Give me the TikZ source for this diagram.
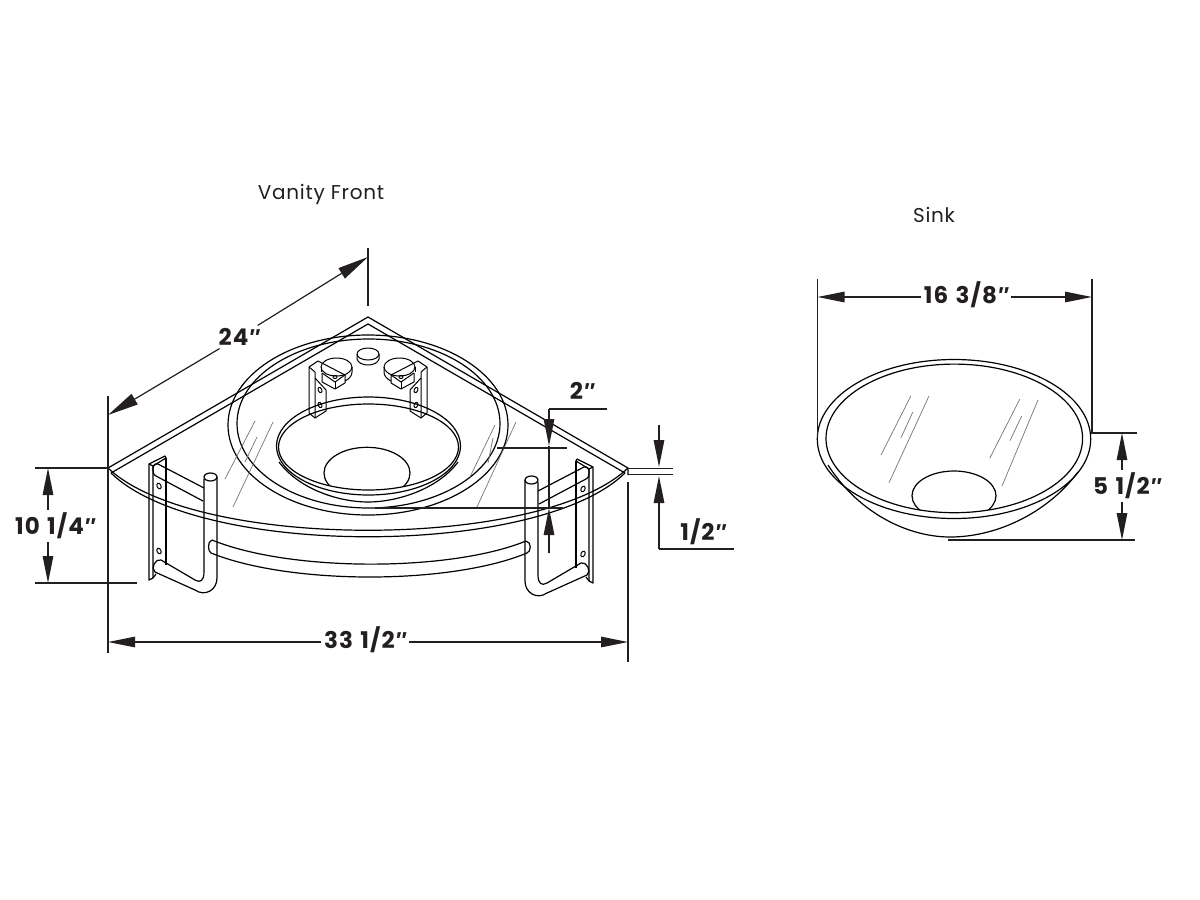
\documentclass[tikz,border=0pt]{standalone}
\usepackage{fontspec}
\setmainfont{Poppins}
\newfontfamily\dimfont[LetterSpace=4.5,WordSpace=1.25]{Poppins}
\newfontfamily\titlefont[LetterSpace=3.5]{Poppins}
\newfontfamily\primefont{Liberation Sans}
\newcommand{\inch}{{\primefont\itshape\bfseries ″}}
\usetikzlibrary{arrows.meta}
\definecolor{inkdark}{HTML}{231F20}
\tikzstyle{part} = [draw=black, line width=1.2pt, line join=round]
\tikzstyle{fine} = [draw=black, line width=1pt, line join=round]
\tikzstyle{glass} = [draw=black!55, line width=0.7pt]
\tikzstyle{dim} = [draw=inkdark, line width=1.2pt]
\tikzstyle{tip} = [dim, -{Triangle[length=27pt,width=10.5pt]}]
\tikzstyle{longtip} = [dim, -{Triangle[length=31pt,width=12pt]}]
\tikzstyle{size} = [font=\dimfont\bfseries\fontsize{23}{27}\selectfont, text=inkdark, inner sep=0pt, outer sep=3pt]
\tikzstyle{title} = [font=\titlefont\fontsize{20}{24}\selectfont, text=inkdark, inner sep=0pt]
\newcommand{\wallbracket}{%
  \path [part] (149,464) -- (165,456) -- (166,458) -- (153,466) -- cycle;
  \path [part] (149,464) -- (149,580) -- (153,578) -- (153,466);
  \path [part] (166,458) -- (166,565);
  \path [part] (153,578) -- (156,574);
  \path [fine] (159,486) ellipse [x radius=2, y radius=3, rotate=25];
  \path [fine] (159,551) ellipse [x radius=2, y radius=3, rotate=25];
  \path [part] (204,488) -- (158,464) .. controls (152,462) and (151,474) .. (156,476) -- (203,501);
  \path [part] (210.5,477) ellipse [x radius=6.5, y radius=4];
  \path [part] (204,479) -- (204,572) .. controls (204,581) and (200,583) .. (195,580)
    -- (161,560) .. controls (156,558) and (150,568) .. (155,572) -- (195,590)
    .. controls (205,597) and (217,590) .. (217,578) -- (217,477);
}
\newcommand{\tapblock}{%
  \path [fine] (309,367) -- (318,361) -- (345,375) -- (335,382) -- (322,373);
  \path [fine] (309,367) -- (309,413) -- (315,418) -- (326,411) -- (326,390) -- (315,378);
  \path [fine] (309,367) -- (315,372) -- (315,418);
  \path [fine] (322,373) -- (322,382) -- (335,389) -- (345,383) -- (345,375);
  \path [fine] (335,382) -- (335,389);
  \path [fine] (336.5,367) ellipse [x radius=15.5, y radius=9];
  \path [fine] (321,367) -- (321,372);
  \path [fine] (352,367) -- (352,372) .. controls (352,376) and (349,379) .. (345,381);
  \path [fine] (335,377) ellipse [x radius=2, y radius=1.5];
  \path [fine] (320,390) ellipse [x radius=1.8, y radius=2.8, rotate=25];
  \path [fine] (320,405) ellipse [x radius=1.8, y radius=2.8, rotate=25];
}
\begin{document}
\begin{tikzpicture}[x=1pt, y=-1pt]
  \useasboundingbox (0,0) rectangle (1200,900);

  \node [title] (front) at (321,194) {Vanity Front};
  \node [title] (sink) at (934,215) {Sink};

  % counter top
  \path [part] (108,468) -- (368,317) -- (628,468) -- (628,475);
  \path [part] (111,473) -- (368,324) -- (625,473);
  \path [part] (108,468) .. controls (195,551) and (541,551) .. (628,468);
  \path [part] (111,473) .. controls (198,558) and (538,558) .. (625,473);

  % basin
  \path [part] (368,425) ellipse [x radius=140, y radius=90];
  \path [part] (368.5,423.5) ellipse [x radius=131.5, y radius=84.5];
  \path [part] (368.5,446) ellipse [x radius=92, y radius=49];
  \path [part] (368.5,447) ellipse [x radius=90, y radius=43];
  \path [part] (279,462) .. controls (300,490) and (340,502) .. (368,502) .. controls (396,502) and (437,490) .. (458,462);
  \begin{scope}
    \clip (368.5,447) ellipse [x radius=90, y radius=43];
    \path [part] (367,473) ellipse [x radius=43, y radius=25.7];
  \end{scope}
  \path [fine] (368,354) ellipse [x radius=11, y radius=6];
  \path [fine] (357,354) -- (357,359) .. controls (359,367) and (377,367) .. (379,359) -- (379,354);
  \tapblock
  \begin{scope}[shift={(736,0)}, xscale=-1]
    \tapblock
  \end{scope}

  % reflections
  \path [glass] (255,421) -- (225,479);
  \path [glass] (257,437) -- (245,462);
  \path [glass] (273,422) -- (233,507);
  \path [glass] (495,425) -- (470,477);
  \path [glass] (493,438) -- (488,463);
  \path [glass] (516,422) -- (477,507);

  % brackets and towel bar
  \wallbracket
  \begin{scope}[shift={(742,3)}, xscale=-1]
    \wallbracket
  \end{scope}
  \path [part] (526,541) .. controls (450,572) and (290,572) .. (212,540)
    .. controls (207,541) and (208,552) .. (211,553)
    .. controls (290,585) and (450,585) .. (527,553)
    .. controls (531,552) and (532,542) .. (526,541);

  % sink
  \path [part] (954,439) ellipse [x radius=136.7, y radius=79.5];
  \path [part] (954.3,438.4) ellipse [x radius=128.3, y radius=74.3];
  \path [part] (828,465) .. controls (860,515) and (910,537) .. (950,537) .. controls (1000,537) and (1050,510) .. (1078,472);
  \begin{scope}
    \clip (954.3,438.4) ellipse [x radius=128.3, y radius=74.3];
    \path [part] (954,495.7) ellipse [x radius=42, y radius=24.7];
  \end{scope}
  \path [glass] (911,395.7) -- (881,455);
  \path [glass] (912.7,412.3) -- (901,437.7);
  \path [glass] (929,396) -- (889,482.7);
  \path [glass] (1019.7,399.3) -- (989.7,458.3);
  \path [glass] (1021.7,416) -- (1010,440.7);
  \path [glass] (1038,400) -- (1002,486);

  % dimension labels
  \node [size] (depth) at (239,337) {24\inch};
  \node [size] (width) at (365,640) {33 1/2\inch};
  \node [size] (height) at (55,526) {10 1/4\inch};
  \node [size] (setback) at (582,391) {2\inch};
  \node [size] (thick) at (703,532) {1/2\inch};
  \node [size] (sinkw) at (966,295) {16 3/8\inch};
  \node [size] (sinkh) at (1127,486) {5 1/2\inch};

  % 24 in
  \coordinate (d1) at (108,396);
  \coordinate (d2) at (108,653);
  \coordinate (d3) at (368,248);
  \coordinate (d4) at (368,306);
  \coordinate (d5) at (108,415);
  \coordinate (d6) at (368,257);
  \path [dim] (d1) -- (d2);
  \path [dim] (d3) -- (d4);
  \path [longtip] (depth) -- (d5);
  \path [longtip] (depth) -- (d6);

  % 33 1/2 in
  \coordinate (w1) at (628,482);
  \coordinate (w2) at (628,662);
  \coordinate (w3) at (108,642);
  \coordinate (w4) at (628,642);
  \path [dim] (w1) -- (w2);
  \path [tip] (width.east |- w3) -- (w4);
  \path [tip] (width.west |- w3) -- (w3);

  % 10 1/4 in
  \coordinate (h1) at (35,468);
  \coordinate (h2) at (108,468);
  \coordinate (h3) at (35,583);
  \coordinate (h4) at (137,583);
  \coordinate (h5) at (48,468);
  \coordinate (h6) at (48,583);
  \path [dim] (h1) -- (h2);
  \path [dim] (h3) -- (h4);
  \path [tip] (height.north -| h5) -- (h5);
  \path [tip] (height.south -| h6) -- (h6);

  % 2 in
  \coordinate (s1) at (607,409);
  \coordinate (s2) at (549,409);
  \coordinate (s3) at (549,446);
  \coordinate (s4) at (549,508);
  \coordinate (s5) at (549,553);
  \coordinate (s6) at (497,448);
  \coordinate (s7) at (567,448);
  \coordinate (s8) at (375,508);
  \coordinate (s9) at (563,508);
  \path [dim] (s1) -- (s2);
  \path [tip] (s2) -- (s3);
  \path [dim] (s3) -- (s4);
  \path [tip] (s5) -- (s4);
  \path [dim] (s6) -- (s7);
  \path [dim] (s8) -- (s9);

  % 1/2 in
  \coordinate (t1) at (628,468.5);
  \coordinate (t2) at (673,468.5);
  \coordinate (t3) at (628,474.5);
  \coordinate (t4) at (673,474.5);
  \coordinate (t5) at (659,425);
  \coordinate (t6) at (659,467);
  \coordinate (t7) at (659,476);
  \coordinate (t8) at (659,549);
  \coordinate (t9) at (734,549);
  \path [dim] (t1) -- (t2);
  \path [dim] (t3) -- (t4);
  \path [tip] (t5) -- (t6);
  \path [tip] (t8) -- (t7);
  \path [dim] (t8) -- (t9);

  % 16 3/8 in
  \coordinate (k1) at (817.5,279);
  \coordinate (k2) at (817.5,437);
  \coordinate (k3) at (1092,279);
  \coordinate (k4) at (1092,432);
  \coordinate (k5) at (817.5,297);
  \coordinate (k6) at (1092,297);
  \path [dim] (k1) -- (k2);
  \path [dim] (k3) -- (k4);
  \path [tip] (sinkw.west |- k5) -- (k5);
  \path [tip] (sinkw.east |- k6) -- (k6);

  % 5 1/2 in
  \coordinate (m1) at (1091,433);
  \coordinate (m2) at (1137,433);
  \coordinate (m3) at (948,540);
  \coordinate (m4) at (1135,540);
  \coordinate (m5) at (1122,433);
  \coordinate (m6) at (1122,540);
  \path [dim] (m1) -- (m2);
  \path [dim] (m3) -- (m4);
  \path [tip] (sinkh.north -| m5) -- (m5);
  \path [tip] (sinkh.south -| m6) -- (m6);
\end{tikzpicture}
\end{document}
